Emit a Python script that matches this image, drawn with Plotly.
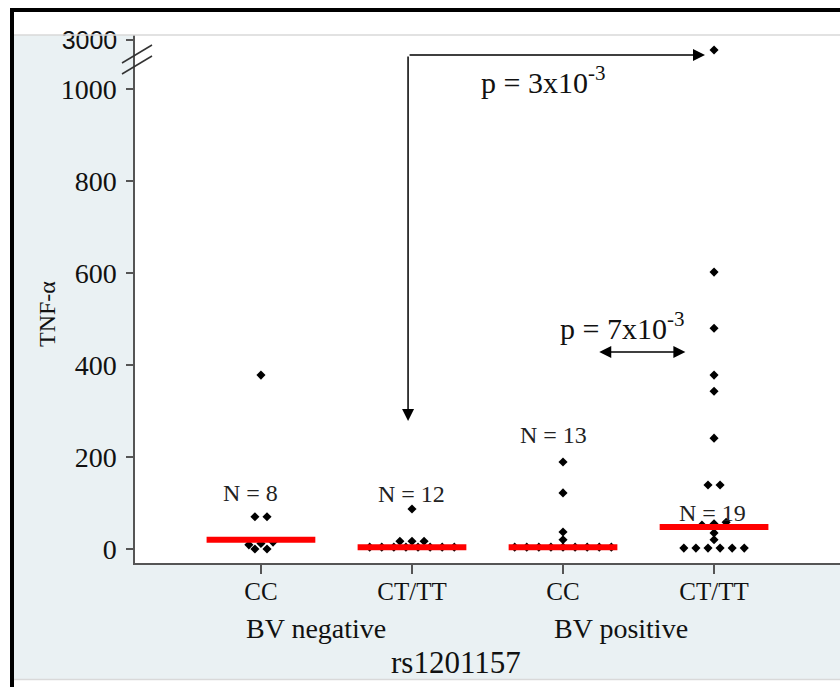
import plotly.graph_objects as go

# ---------------- data ----------------
categories = ["CC", "CT/TT", "CC", "CT/TT"]
group_labels = ["BV negative", "BV positive"]
n_labels = ["N = 8", "N = 12", "N = 13", "N = 19"]

bvneg_cc = [378, 70, 70, 9, 12, 15, 0, 0]
bvneg_ct = [87, 17, 17, 17, 4, 4, 4, 4, 4, 4, 4, 4]
bvpos_cc = [189, 122, 37, 20, 4, 4, 4, 4, 4, 4, 4, 4, 4]
bvpos_ct = [2900, 602, 480, 378, 343, 241, 139, 139, 52, 55, 58, 35, 20,
            2, 2, 2, 2, 2, 2]
groups = [bvneg_cc, bvneg_ct, bvpos_cc, bvpos_ct]
medians = [20, 4, 4, 48]

y_lower_ticks = [0, 200, 400, 600, 800, 1000]
y_upper_ticks = [3000]

# ---------------- layout constants ----------------
W, H = 840, 687
ML, MR, MT, MB = 135, 0, 35, 124
PH = H - MT - MB
PW = W - ML - MR
SPLIT_PX = 62


def pyp(p):  # pixel y -> paper y
    return (H - MB - p) / PH


def pxp(p):  # pixel x -> paper x
    return (p - ML) / PW


SERIF = "Liberation Serif"
SANS = "Liberation Sans"
INK = "#111111"
PANEL = "#eaf1f3"


def dot_offsets(vals, tol=8.0, step=0.08):
    order = sorted(range(len(vals)), key=lambda i: vals[i])
    rows = []
    for i in order:
        if rows and vals[i] - vals[rows[-1][0]] <= tol:
            rows[-1].append(i)
        else:
            rows.append([i])
    offs = [0.0] * len(vals)
    for r in rows:
        n = len(r)
        for k, i in enumerate(r):
            offs[i] = (k - (n - 1) / 2) * step
    return offs


fig = go.Figure()

BREAK = 1500
for gi, vals in enumerate(groups):
    xc = gi + 1
    offs = dot_offsets(vals)
    lo_x = [xc + o for v, o in zip(vals, offs) if v < BREAK]
    lo_y = [v for v in vals if v < BREAK]
    hi_x = [xc + o for v, o in zip(vals, offs) if v >= BREAK]
    hi_y = [v for v in vals if v >= BREAK]
    fig.add_trace(go.Scatter(x=lo_x, y=lo_y, mode="markers",
                             marker=dict(symbol="diamond", size=7, color="black"),
                             xaxis="x", yaxis="y", showlegend=False, cliponaxis=False))
    if hi_y:
        fig.add_trace(go.Scatter(x=hi_x, y=hi_y, mode="markers",
                                 marker=dict(symbol="diamond", size=7, color="black"),
                                 xaxis="x", yaxis="y2", showlegend=False, cliponaxis=False))

for gi, m in enumerate(medians):
    xc = gi + 1
    fig.add_trace(go.Scatter(x=[xc - 0.36, xc + 0.36], y=[m, m], mode="lines",
                             line=dict(color="#ff0000", width=6),
                             xaxis="x", yaxis="y", showlegend=False, hoverinfo="skip"))

lower_top = (549 - SPLIT_PX) / 0.46
lower_bot = -(H - MB - 549) / 0.46
split = pyp(SPLIT_PX)

axis_common = dict(showgrid=False, zeroline=False, showline=True, linecolor="#555555",
                   linewidth=1.5, tickcolor="#555555", tickwidth=1.5, ticks="outside")

fig.update_layout(
    width=W, height=H,
    margin=dict(l=ML, r=MR, t=MT, b=MB, pad=0),
    paper_bgcolor="white", plot_bgcolor="white",
    xaxis=dict(range=[0.166, 4.834], tickvals=[1, 2, 3, 4], ticktext=categories,
               tickfont=dict(family=SERIF, size=25, color=INK), anchor="y",
               ticklen=9, ticklabelstandoff=-4, **axis_common),
    yaxis=dict(domain=[0, split], range=[lower_bot, lower_top], tickvals=y_lower_ticks,
               tickfont=dict(family=SERIF, size=28, color=INK), anchor="x",
               ticklen=7, ticklabelstandoff=4, **axis_common),
    yaxis2=dict(domain=[split, 1], range=[2780, 3050], tickvals=y_upper_ticks,
                tickfont=dict(family=SANS, size=25, color=INK), anchor="x",
                ticklen=7, ticklabelstandoff=4, **axis_common),
    font=dict(family=SERIF, color=INK),
)

shapes = [
    # light panel left of and below the plot area
    dict(type="rect", xref="paper", yref="paper", x0=pxp(14), x1=pxp(ML),
         y0=pyp(679), y1=pyp(35), fillcolor=PANEL, line=dict(width=0), layer="below"),
    dict(type="rect", xref="paper", yref="paper", x0=pxp(ML), x1=pxp(W),
         y0=pyp(679), y1=pyp(H - MB), fillcolor=PANEL, line=dict(width=0), layer="below"),
    # thin grey panel edges
    dict(type="line", xref="paper", yref="paper", x0=pxp(14), x1=pxp(W),
         y0=pyp(35), y1=pyp(35), line=dict(color="#d9d9d9", width=1.5)),
    dict(type="line", xref="paper", yref="paper", x0=pxp(14), x1=pxp(W),
         y0=pyp(679.5), y1=pyp(679.5), line=dict(color="#d9d9d9", width=1.5)),
    # black frame
    dict(type="line", xref="paper", yref="paper", x0=pxp(10), x1=pxp(W),
         y0=pyp(10), y1=pyp(10), line=dict(color="black", width=4)),
    dict(type="line", xref="paper", yref="paper", x0=pxp(12), x1=pxp(12),
         y0=pyp(8), y1=pyp(H), line=dict(color="black", width=4)),
    # axis break marks
    dict(type="line", xref="paper", yref="paper", x0=pxp(122), x1=pxp(152),
         y0=pyp(63), y1=pyp(45), line=dict(color="#333333", width=1.5)),
    dict(type="line", xref="paper", yref="paper", x0=pxp(122), x1=pxp(152),
         y0=pyp(74), y1=pyp(56), line=dict(color="#333333", width=1.5)),
]
fig.update_layout(shapes=shapes)

C = dict(xanchor="center", yanchor="middle", showarrow=False)
ann = []
# N labels
n_pos = [(0.934, 122), (2.0, 120), (2.94, 248), (3.99, 78)]
for (xx, yy), t in zip(n_pos, n_labels):
    ann.append(dict(x=xx, y=yy, xref="x", yref="y", text=t,
                    font=dict(family=SERIF, size=24, color="#222222"), **C))
# p-value texts
ann.append(dict(x=2.87, y=1020, xref="x", yref="y", text="p = 3x10<sup>-3</sup>",
                font=dict(family=SERIF, size=30, color=INK), **C))
ann.append(dict(x=3.39, y=484, xref="x", yref="y", text="p = 7x10<sup>-3</sup>",
                font=dict(family=SERIF, size=30, color=INK), **C))
# arrows
arrow_style = dict(showarrow=True, arrowhead=2, arrowsize=1.6, arrowwidth=1.5,
                   arrowcolor="black", text="")
ann.append(dict(x=1.974, y=278, xref="x", yref="y", ax=0, ay=-366, axref="pixel",
                ayref="pixel", **arrow_style))
ann.append(dict(x=3.94, y=2850, xref="x", yref="y2", ax=1.974, ay=2850, axref="x",
                ayref="y2", **arrow_style))
ann.append(dict(x=3.81, y=428, xref="x", yref="y", ax=3.23, ay=428, axref="x",
                ayref="y", arrowside="end+start", **arrow_style))
# group labels
for xx, t in zip([1.365, 3.385], group_labels):
    ann.append(dict(x=xx, y=pyp(628), xref="x", yref="paper", text=t,
                    font=dict(family=SERIF, size=28, color=INK), **C))
ann.append(dict(x=pxp(456), y=pyp(662), xref="paper", yref="paper", text="rs1201157",
                font=dict(family=SERIF, size=31, color=INK), **C))
ann.append(dict(x=pxp(47), y=pyp(314), xref="paper", yref="paper", text="TNF-α",
                textangle=-90, font=dict(family=SERIF, size=24, color=INK), **C))
fig.update_layout(annotations=ann)

fig.write_html("out.html")
